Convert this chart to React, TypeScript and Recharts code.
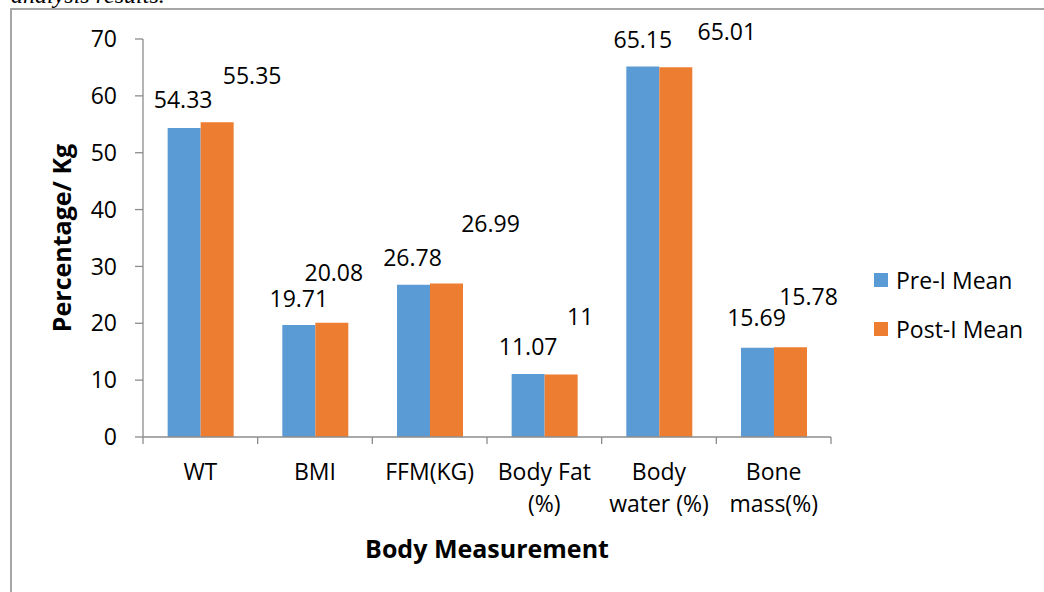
import React from 'react';
import { BarChart, Bar, XAxis, YAxis, Legend, LabelList, Label } from 'recharts';

const categories = ['WT', 'BMI', 'FFM(KG)', 'Body Fat\n(%)', 'Body\nwater (%)', 'Bone\nmass(%)'];
const preMean = [54.33, 19.71, 26.78, 11.07, 65.15, 15.69];
const postMean = [55.35, 20.08, 26.99, 11, 65.01, 15.78];
const yTicks = [0, 10, 20, 30, 40, 50, 60, 70];
const seriesNames = ['Pre-I Mean', 'Post-I Mean'];
const xTitle = 'Body Measurement';
const yTitle = 'Percentage/ Kg';
const caption = 'analysis results.';

// label placement shifts (style only)
const preLabelShift = [[-1, -28], [0, -26], [-1, -27], [0, -27], [0, -27], [-1, -30]];
const postLabelShift = [[35, -46], [2, -50], [44, -60], [19, -58], [51, -36], [18, -50]];

const FONT = "'Open Sans', sans-serif";
const BLUE = '#5B9BD5';
const ORANGE = '#ED7D31';
const AXIS = '#8c8c8c';

const data = categories.map((c, i) => ({ name: c, pre: preMean[i], post: postMean[i] }));

const makeLabel = (shift: number[][]) => (props: any) => {
  const { x, y, width, value, index } = props;
  const s = shift[index] || [0, -27];
  return (
    <text
      x={Number(x) + Number(width) / 2 + s[0]}
      y={Number(y) + s[1] + 8.2}
      textAnchor="middle"
      fontFamily={FONT}
      fontSize={23}
      fill="#000"
    >
      {value}
    </text>
  );
};

const CatTick = (props: any) => {
  const { x, y, payload, index } = props;
  const half = payload && payload.offset ? payload.offset : 57.35;
  const lines = String(payload.value).split('\n');
  const last = index === categories.length - 1;
  return (
    <g>
      <line x1={x - half} x2={x - half} y1={y - 7} y2={y} stroke={AXIS} strokeWidth={1.3} />
      {last && <line x1={x + half} x2={x + half} y1={y - 7} y2={y} stroke={AXIS} strokeWidth={1.3} />}
      {lines.map((ln, i) => (
        <text key={i} x={x} y={y + 36 + i * 32} textAnchor="middle" fontFamily={FONT} fontSize={23} fill="#000">
          {ln}
        </text>
      ))}
    </g>
  );
};

const LegendContent = () => (
  <div style={{ fontFamily: FONT, fontSize: 23, color: '#000' }}>
    {seriesNames.map((n, i) => (
      <div key={n} style={{ display: 'flex', alignItems: 'center', height: 49 }}>
        <div style={{ width: 14, height: 14, background: i === 0 ? BLUE : ORANGE, marginRight: 8 }} />
        <span style={{ whiteSpace: 'nowrap' }}>{n}</span>
      </div>
    ))}
  </div>
);

export default function App() {
  return (
    <div style={{ position: 'absolute', left: 0, top: 0, width: 1044, height: 592, background: '#fff', overflow: 'hidden' }}>
      <div
        style={{
          position: 'absolute',
          left: 11,
          top: -17,
          fontFamily: "'Liberation Serif', serif",
          fontStyle: 'italic',
          fontSize: 24,
          lineHeight: '24px',
          whiteSpace: 'nowrap',
        }}
      >
        {caption}
      </div>
      <div
        style={{
          position: 'absolute',
          left: 10,
          top: 8,
          width: 1100,
          height: 700,
          borderLeft: '2px solid #a6a6a6',
          borderTop: '2px solid #a6a6a6',
        }}
      />
      <div style={{ position: 'absolute', left: 0, top: 0 }}>
        <BarChart
          width={1044}
          height={592}
          data={data}
          margin={{ top: 39, right: 213, bottom: 125, left: 83 }}
          barCategoryGap="21.5%"
          barGap={0}
        >
          <XAxis
            dataKey="name"
            height={30}
            interval={0}
            tickSize={7}
            tickMargin={0}
            tickLine={false}
            axisLine={{ stroke: AXIS, strokeWidth: 1.3 }}
            tick={<CatTick />}
          >
            <Label
              content={(p: any) => {
                const vb = p.viewBox || {};
                return (
                  <text
                    x={vb.x + vb.width / 2}
                    y={558}
                    textAnchor="middle"
                    fontFamily={FONT}
                    fontWeight="bold"
                    fontSize={25}
                    fill="#000"
                  >
                    {xTitle}
                  </text>
                );
              }}
            />
          </XAxis>
          <YAxis
            width={60}
            domain={[0, 70]}
            ticks={yTicks}
            interval={0}
            tickSize={8}
            tickMargin={18}
            axisLine={{ stroke: AXIS, strokeWidth: 1.3 }}
            tickLine={{ stroke: AXIS, strokeWidth: 1.3 }}
            tick={{ fontFamily: FONT, fontSize: 23, fill: '#000' }}
          >
            <Label
              content={(p: any) => {
                const vb = p.viewBox || {};
                const cx = vb.x - 12;
                const cy = vb.y + vb.height / 2;
                return (
                  <text
                    x={cx}
                    y={cy}
                    transform={`rotate(-90 ${cx} ${cy})`}
                    textAnchor="middle"
                    fontFamily={FONT}
                    fontWeight="bold"
                    fontSize={25}
                    fill="#000"
                  >
                    {yTitle}
                  </text>
                );
              }}
            />
          </YAxis>
          <Legend
            layout="vertical"
            align="center"
            verticalAlign="middle"
            content={<LegendContent />}
            wrapperStyle={{ position: 'absolute', left: 874, top: 255, width: 'auto' }}
          />
          <Bar dataKey="pre" name={seriesNames[0]} fill={BLUE} isAnimationActive={false}>
            <LabelList dataKey="pre" content={makeLabel(preLabelShift)} />
          </Bar>
          <Bar dataKey="post" name={seriesNames[1]} fill={ORANGE} isAnimationActive={false}>
            <LabelList dataKey="post" content={makeLabel(postLabelShift)} />
          </Bar>
        </BarChart>
      </div>
    </div>
  );
}
